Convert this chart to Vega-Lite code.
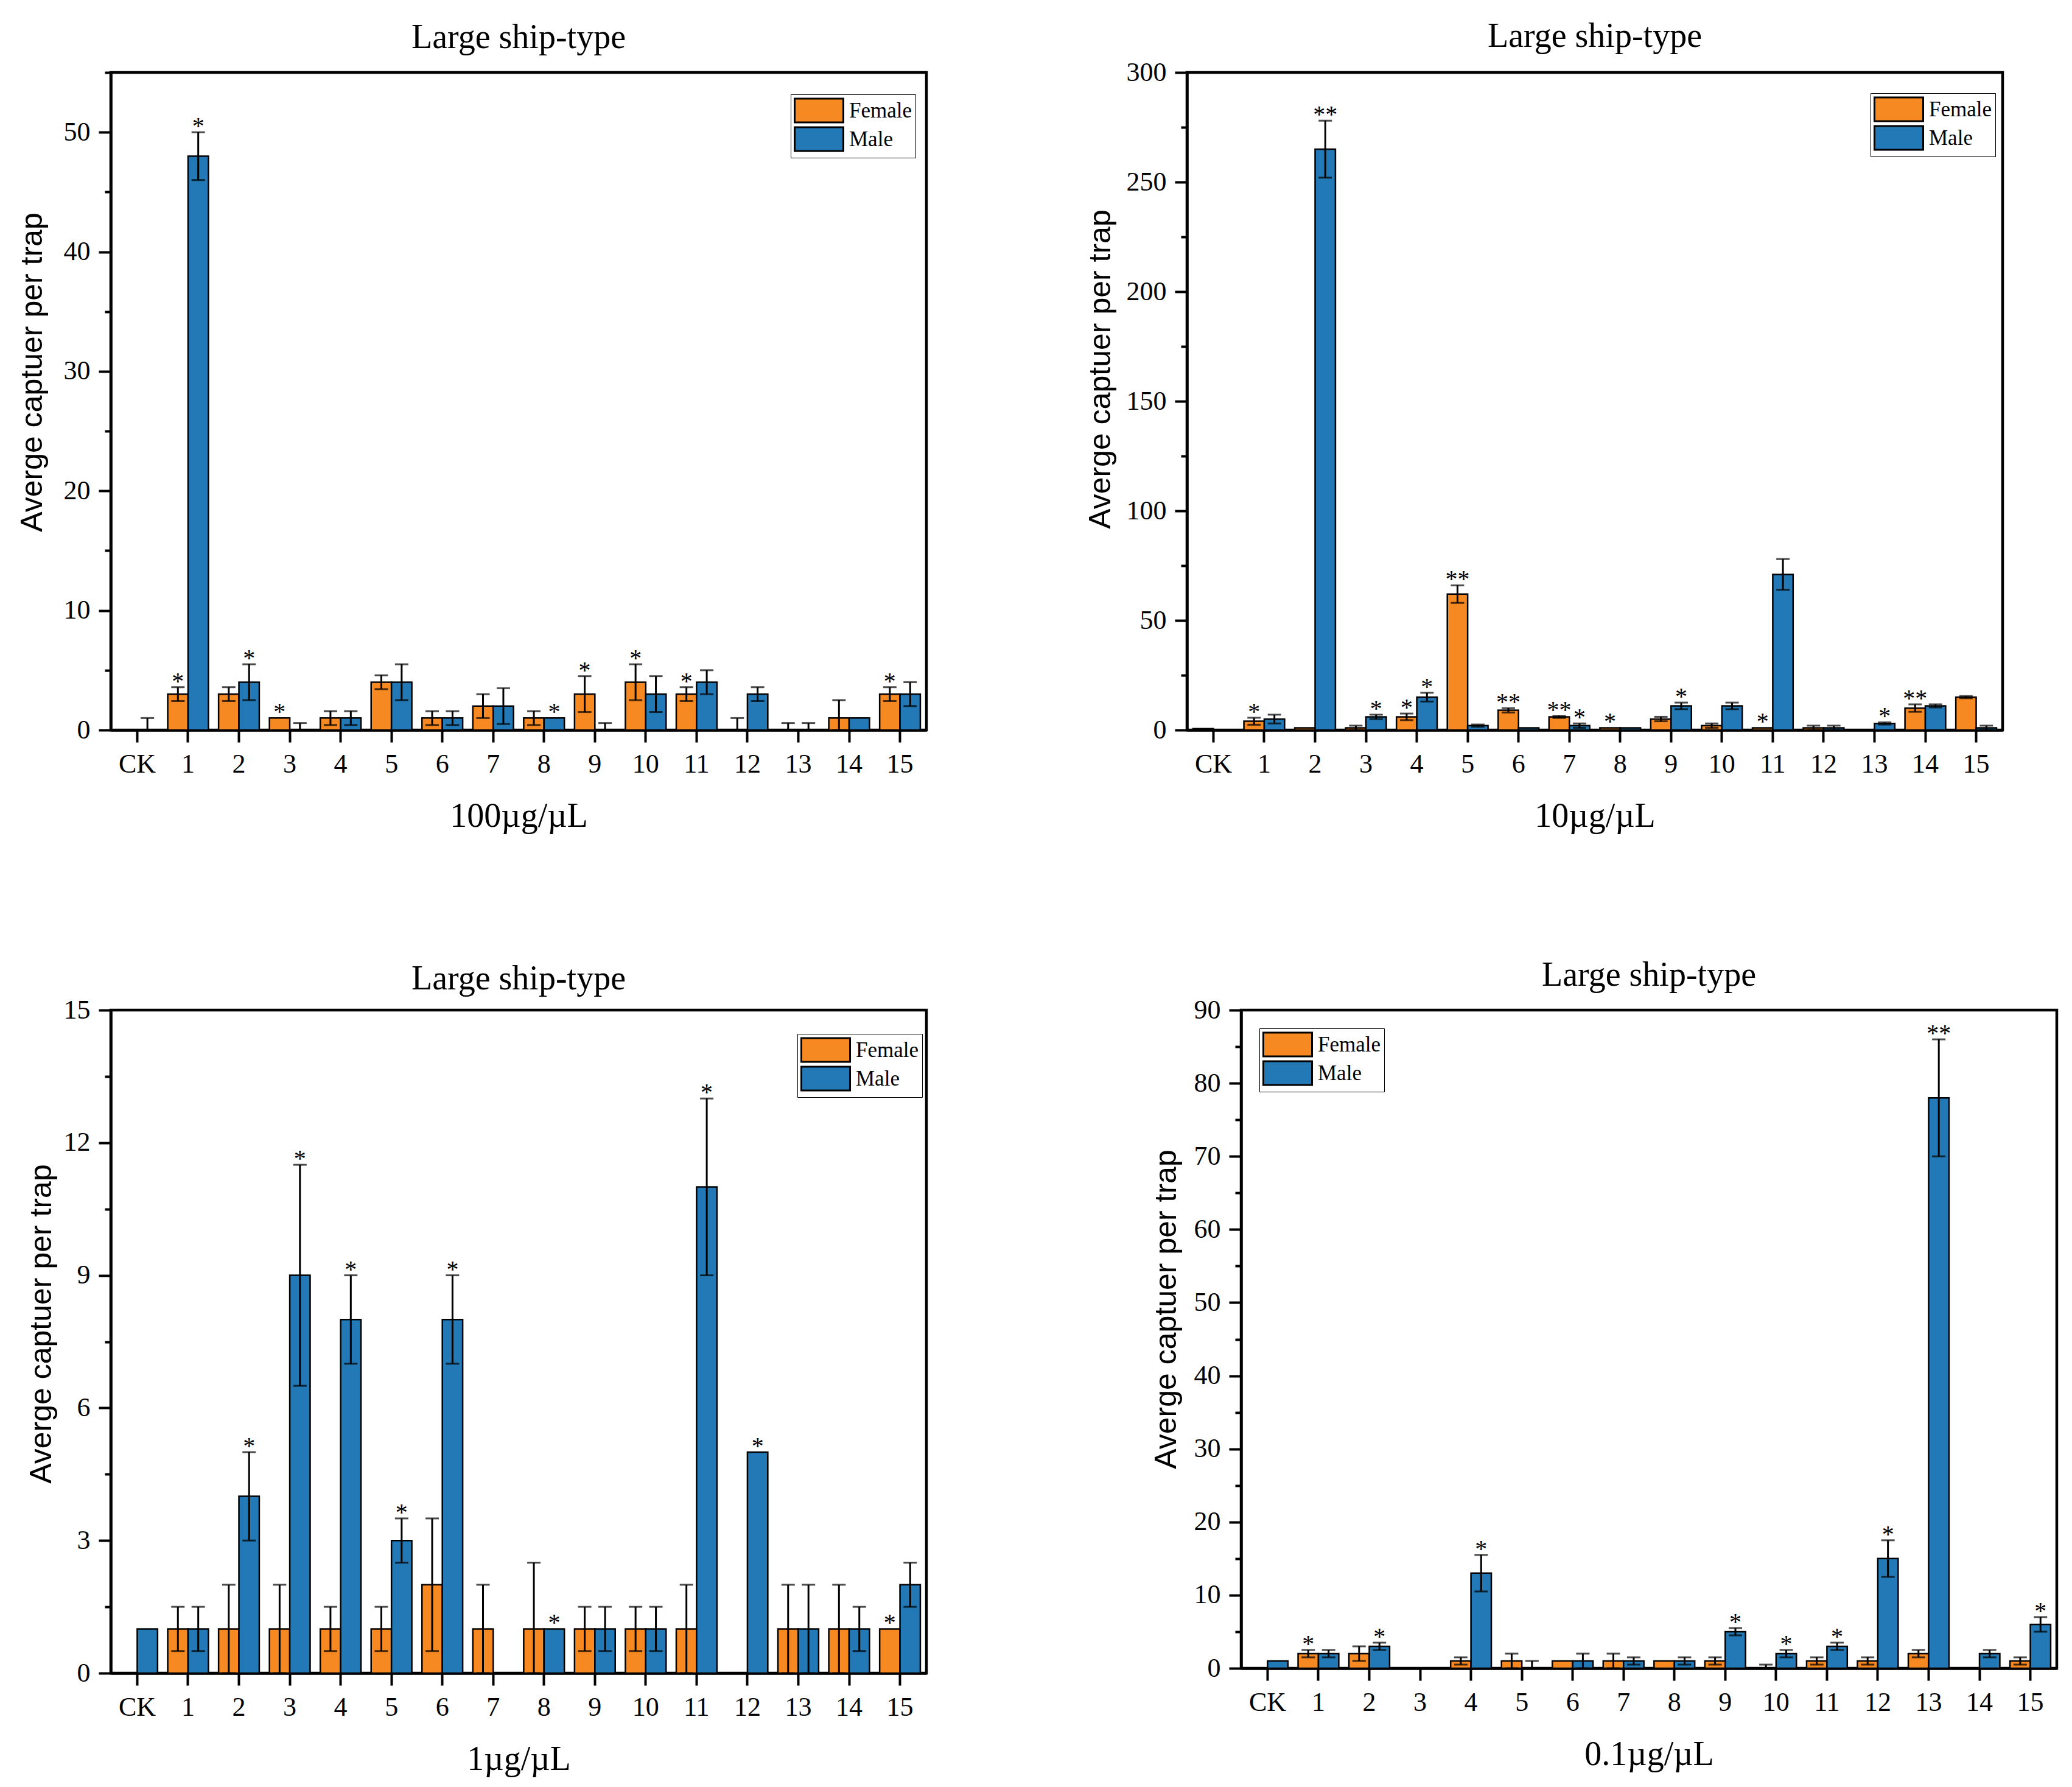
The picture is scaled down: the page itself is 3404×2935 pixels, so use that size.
{
  "$schema": "https://vega.github.io/schema/vega-lite/v6.json",
  "background": "white",
  "padding": {"left": 25, "top": 29, "right": 5, "bottom": 5},
  "bounds": "flush",
  "spacing": 1540,
  "resolve": {"scale": {"color": "independent"}, "legend": {"color": "independent"}},
  "config": {
    "view": {"stroke": "black", "strokeWidth": 4.5},
    "axis": {
      "domainColor": "black", "domainWidth": 4.5, "tickColor": "black", "tickWidth": 4,
      "labelFont": "Liberation Serif", "labelFontSize": 44, "labelColor": "black", "labelPadding": 14,
      "titleFont": "Liberation Serif", "titleFontWeight": "normal", "titleColor": "black",
      "grid": false, "zindex": 1
    },
    "axisX": {"tickSize": 20, "labelAngle": 0, "titleFontSize": 56, "titleY": 158, "titleBaseline": "alphabetic"},
    "axisY": {"titleFont": "Liberation Sans", "titleFontSize": 50, "titleBaseline": "alphabetic", "titleAngle": -90, "titleAlign": "center", "format": "d"},
    "legend": {
      "orient": "none", "symbolType": "M-2,-0.975H2V0.975H-2Z", "symbolSize": 1600, "symbolOffset": 20,
      "symbolStrokeColor": "black", "symbolStrokeWidth": 3, "symbolOpacity": 1,
      "labelFont": "Liberation Serif", "labelFontSize": 35, "labelColor": "black", "labelOffset": 28,
      "rowPadding": -12, "padding": 5, "strokeColor": "black", "fillColor": "white"
    },
    "title": {"font": "Liberation Serif", "fontSize": 56, "fontWeight": "normal", "color": "black", "baseline": "alphabetic", "frame": "group", "anchor": "middle"}
  },
  "datasets": {
    "p1": [
      {"g": "CK", "sex": "Female", "m": 0, "lo": 0, "hi": 0, "s": ""},
      {"g": "CK", "sex": "Male", "m": 0, "lo": -1, "hi": 1, "s": ""},
      {"g": "1", "sex": "Female", "m": 3, "lo": 2.42, "hi": 3.58, "s": "*"},
      {"g": "1", "sex": "Male", "m": 48, "lo": 46, "hi": 50, "s": "*"},
      {"g": "2", "sex": "Female", "m": 3, "lo": 2.42, "hi": 3.58, "s": ""},
      {"g": "2", "sex": "Male", "m": 4, "lo": 2.5, "hi": 5.5, "s": "*"},
      {"g": "3", "sex": "Female", "m": 1, "lo": 1, "hi": 1, "s": "*"},
      {"g": "3", "sex": "Male", "m": 0, "lo": -0.58, "hi": 0.58, "s": ""},
      {"g": "4", "sex": "Female", "m": 1, "lo": 0.42, "hi": 1.58, "s": ""},
      {"g": "4", "sex": "Male", "m": 1, "lo": 0.42, "hi": 1.58, "s": ""},
      {"g": "5", "sex": "Female", "m": 4, "lo": 3.42, "hi": 4.58, "s": ""},
      {"g": "5", "sex": "Male", "m": 4, "lo": 2.5, "hi": 5.5, "s": ""},
      {"g": "6", "sex": "Female", "m": 1, "lo": 0.42, "hi": 1.58, "s": ""},
      {"g": "6", "sex": "Male", "m": 1, "lo": 0.42, "hi": 1.58, "s": ""},
      {"g": "7", "sex": "Female", "m": 2, "lo": 1, "hi": 3, "s": ""},
      {"g": "7", "sex": "Male", "m": 2, "lo": 0.5, "hi": 3.5, "s": ""},
      {"g": "8", "sex": "Female", "m": 1, "lo": 0.42, "hi": 1.58, "s": ""},
      {"g": "8", "sex": "Male", "m": 1, "lo": 1, "hi": 1, "s": "*"},
      {"g": "9", "sex": "Female", "m": 3, "lo": 1.5, "hi": 4.5, "s": "*"},
      {"g": "9", "sex": "Male", "m": 0, "lo": -0.58, "hi": 0.58, "s": ""},
      {"g": "10", "sex": "Female", "m": 4, "lo": 2.5, "hi": 5.5, "s": "*"},
      {"g": "10", "sex": "Male", "m": 3, "lo": 1.5, "hi": 4.5, "s": ""},
      {"g": "11", "sex": "Female", "m": 3, "lo": 2.42, "hi": 3.58, "s": "*"},
      {"g": "11", "sex": "Male", "m": 4, "lo": 3, "hi": 5, "s": ""},
      {"g": "12", "sex": "Female", "m": 0, "lo": -1, "hi": 1, "s": ""},
      {"g": "12", "sex": "Male", "m": 3, "lo": 2.42, "hi": 3.58, "s": ""},
      {"g": "13", "sex": "Female", "m": 0, "lo": -0.58, "hi": 0.58, "s": ""},
      {"g": "13", "sex": "Male", "m": 0, "lo": -0.58, "hi": 0.58, "s": ""},
      {"g": "14", "sex": "Female", "m": 1, "lo": -0.5, "hi": 2.5, "s": ""},
      {"g": "14", "sex": "Male", "m": 1, "lo": 1, "hi": 1, "s": ""},
      {"g": "15", "sex": "Female", "m": 3, "lo": 2.42, "hi": 3.58, "s": "*"},
      {"g": "15", "sex": "Male", "m": 3, "lo": 2, "hi": 4, "s": ""}
    ],
    "p2": [
      {"g": "CK", "sex": "Female", "m": 0.6, "lo": 0.6, "hi": 0.6, "s": ""},
      {"g": "CK", "sex": "Male", "m": 0, "lo": 0, "hi": 0, "s": ""},
      {"g": "1", "sex": "Female", "m": 4, "lo": 2.4, "hi": 5.6, "s": "*"},
      {"g": "1", "sex": "Male", "m": 5, "lo": 3, "hi": 7, "s": ""},
      {"g": "2", "sex": "Female", "m": 1, "lo": 1, "hi": 1, "s": ""},
      {"g": "2", "sex": "Male", "m": 265, "lo": 252, "hi": 278, "s": "**"},
      {"g": "3", "sex": "Female", "m": 1, "lo": 0, "hi": 2, "s": ""},
      {"g": "3", "sex": "Male", "m": 6, "lo": 5, "hi": 7, "s": "*"},
      {"g": "4", "sex": "Female", "m": 6, "lo": 4.5, "hi": 7.5, "s": "*"},
      {"g": "4", "sex": "Male", "m": 15, "lo": 13, "hi": 17, "s": "*"},
      {"g": "5", "sex": "Female", "m": 62, "lo": 58, "hi": 66, "s": "**"},
      {"g": "5", "sex": "Male", "m": 2, "lo": 1.5, "hi": 2.5, "s": ""},
      {"g": "6", "sex": "Female", "m": 9, "lo": 8, "hi": 10, "s": "**"},
      {"g": "6", "sex": "Male", "m": 1, "lo": 1, "hi": 1, "s": ""},
      {"g": "7", "sex": "Female", "m": 6, "lo": 5.5, "hi": 6.5, "s": "**"},
      {"g": "7", "sex": "Male", "m": 2, "lo": 1, "hi": 3, "s": "*"},
      {"g": "8", "sex": "Female", "m": 1, "lo": 1, "hi": 1, "s": "*"},
      {"g": "8", "sex": "Male", "m": 1, "lo": 1, "hi": 1, "s": ""},
      {"g": "9", "sex": "Female", "m": 5, "lo": 4, "hi": 6, "s": ""},
      {"g": "9", "sex": "Male", "m": 11, "lo": 9.5, "hi": 12.5, "s": "*"},
      {"g": "10", "sex": "Female", "m": 2, "lo": 1, "hi": 3, "s": ""},
      {"g": "10", "sex": "Male", "m": 11, "lo": 9.5, "hi": 12.5, "s": ""},
      {"g": "11", "sex": "Female", "m": 1, "lo": 1, "hi": 1, "s": "*"},
      {"g": "11", "sex": "Male", "m": 71, "lo": 64, "hi": 78, "s": ""},
      {"g": "12", "sex": "Female", "m": 1, "lo": 0, "hi": 2, "s": ""},
      {"g": "12", "sex": "Male", "m": 1, "lo": 0, "hi": 2, "s": ""},
      {"g": "13", "sex": "Female", "m": 0, "lo": 0, "hi": 0, "s": ""},
      {"g": "13", "sex": "Male", "m": 3, "lo": 2.5, "hi": 3.5, "s": "*"},
      {"g": "14", "sex": "Female", "m": 10, "lo": 8.3, "hi": 11.7, "s": "**"},
      {"g": "14", "sex": "Male", "m": 11, "lo": 10.3, "hi": 11.7, "s": ""},
      {"g": "15", "sex": "Female", "m": 15, "lo": 14.5, "hi": 15.5, "s": ""},
      {"g": "15", "sex": "Male", "m": 1, "lo": 0, "hi": 2, "s": ""}
    ],
    "p3": [
      {"g": "CK", "sex": "Female", "m": 0, "lo": 0, "hi": 0, "s": ""},
      {"g": "CK", "sex": "Male", "m": 1, "lo": 1, "hi": 1, "s": ""},
      {"g": "1", "sex": "Female", "m": 1, "lo": 0.5, "hi": 1.5, "s": ""},
      {"g": "1", "sex": "Male", "m": 1, "lo": 0.5, "hi": 1.5, "s": ""},
      {"g": "2", "sex": "Female", "m": 1, "lo": 0, "hi": 2, "s": ""},
      {"g": "2", "sex": "Male", "m": 4, "lo": 3, "hi": 5, "s": "*"},
      {"g": "3", "sex": "Female", "m": 1, "lo": 0, "hi": 2, "s": ""},
      {"g": "3", "sex": "Male", "m": 9, "lo": 6.5, "hi": 11.5, "s": "*"},
      {"g": "4", "sex": "Female", "m": 1, "lo": 0.5, "hi": 1.5, "s": ""},
      {"g": "4", "sex": "Male", "m": 8, "lo": 7, "hi": 9, "s": "*"},
      {"g": "5", "sex": "Female", "m": 1, "lo": 0.5, "hi": 1.5, "s": ""},
      {"g": "5", "sex": "Male", "m": 3, "lo": 2.5, "hi": 3.5, "s": "*"},
      {"g": "6", "sex": "Female", "m": 2, "lo": 0.5, "hi": 3.5, "s": ""},
      {"g": "6", "sex": "Male", "m": 8, "lo": 7, "hi": 9, "s": "*"},
      {"g": "7", "sex": "Female", "m": 1, "lo": 0, "hi": 2, "s": ""},
      {"g": "7", "sex": "Male", "m": 0, "lo": 0, "hi": 0, "s": ""},
      {"g": "8", "sex": "Female", "m": 1, "lo": -0.5, "hi": 2.5, "s": ""},
      {"g": "8", "sex": "Male", "m": 1, "lo": 1, "hi": 1, "s": "*"},
      {"g": "9", "sex": "Female", "m": 1, "lo": 0.5, "hi": 1.5, "s": ""},
      {"g": "9", "sex": "Male", "m": 1, "lo": 0.5, "hi": 1.5, "s": ""},
      {"g": "10", "sex": "Female", "m": 1, "lo": 0.5, "hi": 1.5, "s": ""},
      {"g": "10", "sex": "Male", "m": 1, "lo": 0.5, "hi": 1.5, "s": ""},
      {"g": "11", "sex": "Female", "m": 1, "lo": 0, "hi": 2, "s": ""},
      {"g": "11", "sex": "Male", "m": 11, "lo": 9, "hi": 13, "s": "*"},
      {"g": "12", "sex": "Female", "m": 0, "lo": 0, "hi": 0, "s": ""},
      {"g": "12", "sex": "Male", "m": 5, "lo": 5, "hi": 5, "s": "*"},
      {"g": "13", "sex": "Female", "m": 1, "lo": 0, "hi": 2, "s": ""},
      {"g": "13", "sex": "Male", "m": 1, "lo": 0, "hi": 2, "s": ""},
      {"g": "14", "sex": "Female", "m": 1, "lo": 0, "hi": 2, "s": ""},
      {"g": "14", "sex": "Male", "m": 1, "lo": 0.5, "hi": 1.5, "s": ""},
      {"g": "15", "sex": "Female", "m": 1, "lo": 1, "hi": 1, "s": "*"},
      {"g": "15", "sex": "Male", "m": 2, "lo": 1.5, "hi": 2.5, "s": ""}
    ],
    "p4": [
      {"g": "CK", "sex": "Female", "m": 0, "lo": 0, "hi": 0, "s": ""},
      {"g": "CK", "sex": "Male", "m": 1, "lo": 1, "hi": 1, "s": ""},
      {"g": "1", "sex": "Female", "m": 2, "lo": 1.5, "hi": 2.5, "s": "*"},
      {"g": "1", "sex": "Male", "m": 2, "lo": 1.5, "hi": 2.5, "s": ""},
      {"g": "2", "sex": "Female", "m": 2, "lo": 1, "hi": 3, "s": ""},
      {"g": "2", "sex": "Male", "m": 3, "lo": 2.5, "hi": 3.5, "s": "*"},
      {"g": "3", "sex": "Female", "m": 0, "lo": 0, "hi": 0, "s": ""},
      {"g": "3", "sex": "Male", "m": 0, "lo": 0, "hi": 0, "s": ""},
      {"g": "4", "sex": "Female", "m": 1, "lo": 0.5, "hi": 1.5, "s": ""},
      {"g": "4", "sex": "Male", "m": 13, "lo": 10.5, "hi": 15.5, "s": "*"},
      {"g": "5", "sex": "Female", "m": 1, "lo": 0, "hi": 2, "s": ""},
      {"g": "5", "sex": "Male", "m": 0, "lo": -1, "hi": 1, "s": ""},
      {"g": "6", "sex": "Female", "m": 1, "lo": 1, "hi": 1, "s": ""},
      {"g": "6", "sex": "Male", "m": 1, "lo": 0, "hi": 2, "s": ""},
      {"g": "7", "sex": "Female", "m": 1, "lo": 0, "hi": 2, "s": ""},
      {"g": "7", "sex": "Male", "m": 1, "lo": 0.5, "hi": 1.5, "s": ""},
      {"g": "8", "sex": "Female", "m": 1, "lo": 1, "hi": 1, "s": ""},
      {"g": "8", "sex": "Male", "m": 1, "lo": 0.5, "hi": 1.5, "s": ""},
      {"g": "9", "sex": "Female", "m": 1, "lo": 0.5, "hi": 1.5, "s": ""},
      {"g": "9", "sex": "Male", "m": 5, "lo": 4.5, "hi": 5.5, "s": "*"},
      {"g": "10", "sex": "Female", "m": 0, "lo": -0.5, "hi": 0.5, "s": ""},
      {"g": "10", "sex": "Male", "m": 2, "lo": 1.5, "hi": 2.5, "s": "*"},
      {"g": "11", "sex": "Female", "m": 1, "lo": 0.5, "hi": 1.5, "s": ""},
      {"g": "11", "sex": "Male", "m": 3, "lo": 2.5, "hi": 3.5, "s": "*"},
      {"g": "12", "sex": "Female", "m": 1, "lo": 0.5, "hi": 1.5, "s": ""},
      {"g": "12", "sex": "Male", "m": 15, "lo": 12.5, "hi": 17.5, "s": "*"},
      {"g": "13", "sex": "Female", "m": 2, "lo": 1.5, "hi": 2.5, "s": ""},
      {"g": "13", "sex": "Male", "m": 78, "lo": 70, "hi": 86, "s": "**"},
      {"g": "14", "sex": "Female", "m": 0, "lo": 0, "hi": 0, "s": ""},
      {"g": "14", "sex": "Male", "m": 2, "lo": 1.5, "hi": 2.5, "s": ""},
      {"g": "15", "sex": "Female", "m": 1, "lo": 0.5, "hi": 1.5, "s": ""},
      {"g": "15", "sex": "Male", "m": 6, "lo": 5, "hi": 7, "s": "*"}
    ]
  },
  "vconcat": [
    {
      "bounds": "flush",
      "spacing": 428,
      "resolve": {"scale": {"color": "independent"}, "legend": {"color": "independent"}},
      "hconcat": [
        {
          "width": 1340, "height": 1080,
          "data": {"name": "p1"},
          "title": {"text": "Large ship-type", "offset": 26},
          "encoding": {
            "x": {"field": "g", "type": "nominal", "sort": null, "scale": {"paddingInner": 0.2, "paddingOuter": 0.12}, "axis": {"title": "100µg/µL"}},
            "xOffset": {"field": "sex", "type": "nominal", "sort": ["Female", "Male"]}
          },
          "layer": [
            {
              "mark": {"type": "bar", "stroke": "black", "strokeWidth": 2.5},
              "encoding": {
                "y": {"field": "m", "type": "quantitative", "title": "Averge captuer per trap",
                  "scale": {"domain": [0, 55], "nice": false, "clamp": true},
                  "axis": {"values": [0, 5, 10, 15, 20, 25, 30, 35, 40, 45, 50, 55],
                    "labelExpr": "datum.value % 10 === 0 ? datum.label : ''",
                    "tickSize": {"condition": {"test": "datum.value % 10 === 0", "value": 20}, "value": 10},
                    "titleX": -114, "titleY": 492}},
                "color": {"field": "sex", "type": "nominal", "scale": {"domain": ["Female", "Male"], "range": ["#F68922", "#2379B5"]},
                  "legend": {"title": null, "legendX": 1117, "legendY": 36}}
              }
            },
            {
              "transform": [{"filter": "datum.hi > datum.lo"}],
              "mark": {"type": "errorbar", "ticks": true, "size": 22, "thickness": 3, "color": "black"},
              "encoding": {"y": {"field": "lo", "type": "quantitative", "title": "Averge captuer per trap"}, "y2": {"field": "hi"}}
            },
            {
              "transform": [{"filter": "datum.s !== ''"}],
              "mark": {"type": "text", "font": "Liberation Serif", "fontSize": 40, "baseline": "alphabetic", "dy": 3, "color": "black"},
              "encoding": {"y": {"field": "hi", "type": "quantitative", "title": "Averge captuer per trap"}, "text": {"field": "s"}}
            }
          ]
        },
        {
          "width": 1340, "height": 1080,
          "data": {"name": "p2"},
          "title": {"text": "Large ship-type", "offset": 8},
          "encoding": {
            "x": {"field": "g", "type": "nominal", "sort": null, "scale": {"paddingInner": 0.2, "paddingOuter": 0.12}, "axis": {"title": "10µg/µL"}},
            "xOffset": {"field": "sex", "type": "nominal", "sort": ["Female", "Male"]}
          },
          "layer": [
            {
              "mark": {"type": "bar", "stroke": "black", "strokeWidth": 2.5},
              "encoding": {
                "y": {"field": "m", "type": "quantitative", "title": "Averge captuer per trap",
                  "scale": {"domain": [0, 300], "nice": false, "clamp": true},
                  "axis": {"values": [0, 25, 50, 75, 100, 125, 150, 175, 200, 225, 250, 275, 300],
                    "labelExpr": "datum.value % 50 === 0 ? datum.label : ''",
                    "tickSize": {"condition": {"test": "datum.value % 50 === 0", "value": 20}, "value": 10},
                    "titleX": -127, "titleY": 487}},
                "color": {"field": "sex", "type": "nominal", "scale": {"domain": ["Female", "Male"], "range": ["#F68922", "#2379B5"]},
                  "legend": {"title": null, "legendX": 1123, "legendY": 34}}
              }
            },
            {
              "transform": [{"filter": "datum.hi > datum.lo"}],
              "mark": {"type": "errorbar", "ticks": true, "size": 22, "thickness": 3, "color": "black"},
              "encoding": {"y": {"field": "lo", "type": "quantitative", "title": "Averge captuer per trap"}, "y2": {"field": "hi"}}
            },
            {
              "transform": [{"filter": "datum.s !== ''"}],
              "mark": {"type": "text", "font": "Liberation Serif", "fontSize": 40, "baseline": "alphabetic", "dy": 3, "color": "black"},
              "encoding": {"y": {"field": "hi", "type": "quantitative", "title": "Averge captuer per trap"}, "text": {"field": "s"}}
            }
          ]
        }
      ]
    },
    {
      "bounds": "flush",
      "spacing": 517,
      "resolve": {"scale": {"color": "independent"}, "legend": {"color": "independent"}},
      "hconcat": [
        {
          "width": 1340, "height": 1089,
          "data": {"name": "p3"},
          "title": {"text": "Large ship-type", "offset": 0},
          "encoding": {
            "x": {"field": "g", "type": "nominal", "sort": null, "scale": {"paddingInner": 0.2, "paddingOuter": 0.12}, "axis": {"title": "1µg/µL"}},
            "xOffset": {"field": "sex", "type": "nominal", "sort": ["Female", "Male"]}
          },
          "layer": [
            {
              "mark": {"type": "bar", "stroke": "black", "strokeWidth": 2.5},
              "encoding": {
                "y": {"field": "m", "type": "quantitative", "title": "Averge captuer per trap",
                  "scale": {"domain": [0, 15], "nice": false, "clamp": true},
                  "axis": {"values": [0, 1.5, 3, 4.5, 6, 7.5, 9, 10.5, 12, 13.5, 15],
                    "labelExpr": "datum.value % 3 === 0 ? datum.label : ''",
                    "tickSize": {"condition": {"test": "datum.value % 3 === 0", "value": 20}, "value": 10},
                    "titleX": -99, "titleY": 515}},
                "color": {"field": "sex", "type": "nominal", "scale": {"domain": ["Female", "Male"], "range": ["#F68922", "#2379B5"]},
                  "legend": {"title": null, "legendX": 1128, "legendY": 39}}
              }
            },
            {
              "transform": [{"filter": "datum.hi > datum.lo"}],
              "mark": {"type": "errorbar", "ticks": true, "size": 22, "thickness": 3, "color": "black"},
              "encoding": {"y": {"field": "lo", "type": "quantitative", "title": "Averge captuer per trap"}, "y2": {"field": "hi"}}
            },
            {
              "transform": [{"filter": "datum.s !== ''"}],
              "mark": {"type": "text", "font": "Liberation Serif", "fontSize": 40, "baseline": "alphabetic", "dy": 3, "color": "black"},
              "encoding": {"y": {"field": "hi", "type": "quantitative", "title": "Averge captuer per trap"}, "text": {"field": "s"}}
            }
          ]
        },
        {
          "width": 1340, "height": 1081,
          "data": {"name": "p4"},
          "title": {"text": "Large ship-type", "offset": 6},
          "encoding": {
            "x": {"field": "g", "type": "nominal", "sort": null, "scale": {"paddingInner": 0.2, "paddingOuter": 0.12}, "axis": {"title": "0.1µg/µL"}},
            "xOffset": {"field": "sex", "type": "nominal", "sort": ["Female", "Male"]}
          },
          "layer": [
            {
              "mark": {"type": "bar", "stroke": "black", "strokeWidth": 2.5},
              "encoding": {
                "y": {"field": "m", "type": "quantitative", "title": "Averge captuer per trap",
                  "scale": {"domain": [0, 90], "nice": false, "clamp": true},
                  "axis": {"values": [0, 5, 10, 15, 20, 25, 30, 35, 40, 45, 50, 55, 60, 65, 70, 75, 80, 85, 90],
                    "labelExpr": "datum.value % 10 === 0 ? datum.label : ''",
                    "tickSize": {"condition": {"test": "datum.value % 10 === 0", "value": 20}, "value": 10},
                    "titleX": -108, "titleY": 491}},
                "color": {"field": "sex", "type": "nominal", "scale": {"domain": ["Female", "Male"], "range": ["#F68922", "#2379B5"]},
                  "legend": {"title": null, "legendX": 30, "legendY": 30}}
              }
            },
            {
              "transform": [{"filter": "datum.hi > datum.lo"}],
              "mark": {"type": "errorbar", "ticks": true, "size": 22, "thickness": 3, "color": "black"},
              "encoding": {"y": {"field": "lo", "type": "quantitative", "title": "Averge captuer per trap"}, "y2": {"field": "hi"}}
            },
            {
              "transform": [{"filter": "datum.s !== ''"}],
              "mark": {"type": "text", "font": "Liberation Serif", "fontSize": 40, "baseline": "alphabetic", "dy": 3, "color": "black"},
              "encoding": {"y": {"field": "hi", "type": "quantitative", "title": "Averge captuer per trap"}, "text": {"field": "s"}}
            }
          ]
        }
      ]
    }
  ]
}
